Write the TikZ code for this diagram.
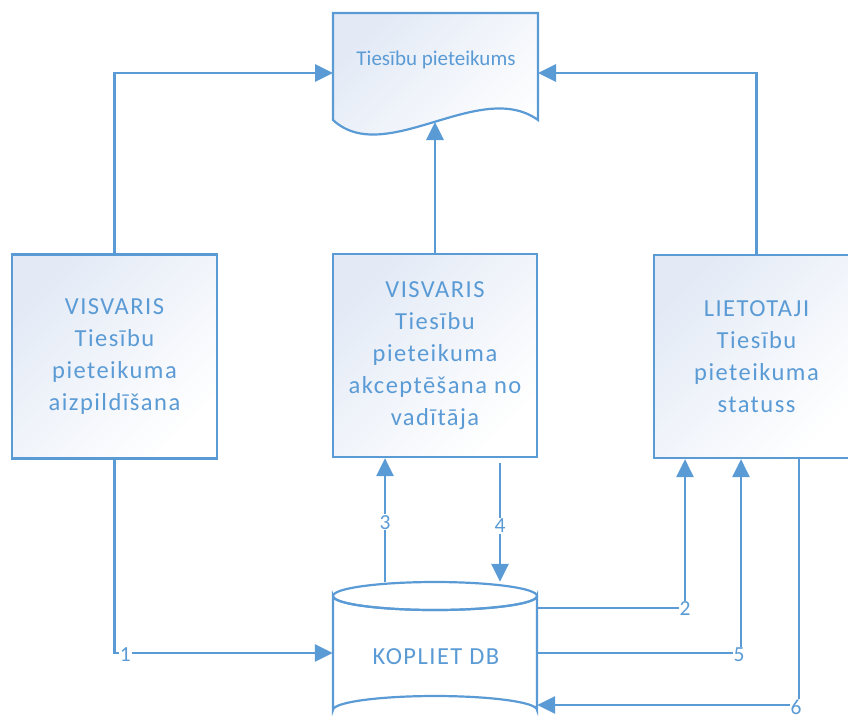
\documentclass[tikz,border=0pt]{standalone}
\usepackage{fontspec}
\setmainfont{Carlito}
\usetikzlibrary{arrows.meta}
\definecolor{linec}{HTML}{5B9BD5}
\definecolor{textc}{HTML}{5B9BD5}
\definecolor{fillc}{HTML}{E3EAF6}
\tikzset{
  procbox/.style={draw=linec, line width=2.2pt, top color=fillc, bottom color=white, shading angle=45,
    minimum width=205pt, minimum height=204pt, text=textc, align=center,
    font=\fontsize{24.5}{32}\selectfont\addfontfeature{LetterSpace=6}, inner sep=0pt},
  conn/.style={draw=linec, line width=2.8pt, -{Triangle[width=17pt,length=18pt]}},
  lab/.style={fill=white, text=textc, font=\fontsize{21.5}{22}\selectfont, inner sep=1pt},
  shapeline/.style={draw=linec, line width=2.2pt},
}
\begin{document}
\begin{tikzpicture}[x=1pt,y=-1pt]
\useasboundingbox (0,0) rectangle (848,724);
\clip (0,0) rectangle (848,724);
% document shape
\path[shapeline, top color=fillc, bottom color=white, shading angle=45]
  (333,13) -- (538,13) -- (538,120) .. controls (480,78) and (385,168) .. (333,120) -- cycle;
\node[text=textc, font=\fontsize{21}{24}\selectfont] (doc) at (436,60) {Tiesību pieteikums};
\coordinate (dl) at (333,73);
\coordinate (dr) at (538,73);
\coordinate (dbot) at (435,122);
% process boxes
\node[procbox] (b1) at (114.5,356.5) {VISVARIS\\Tiesību\\pieteikuma\\aizpildīšana};
\node[procbox, minimum width=204pt, minimum height=203pt] (b2) at (435,355.5) {VISVARIS\\Tiesību\\pieteikuma\\akceptēšana no\\vadītāja};
\node[procbox, minimum height=203pt] (b3) at (756.5,356.5) {LIETOTAJI\\Tiesību\\pieteikuma\\statuss};
% database cylinder
\path[shapeline, fill=white] (333,596) -- (333,710) arc[start angle=180, end angle=360, x radius=102, y radius=14]
  -- (537,596) arc[start angle=0, end angle=180, x radius=102, y radius=14] -- cycle;
\draw[shapeline] (435,596) ellipse [x radius=102, y radius=14];
\node[minimum width=204pt, minimum height=142pt, inner sep=0pt] (db) at (435,653) {};
\node[text=textc, font=\fontsize{24.5}{28}\selectfont\addfontfeature{LetterSpace=6}] (dblabel) at (436,657) {KOPLIET DB};
% helper coordinates
\coordinate (x2) at (685,0);
\coordinate (x3) at (385,0);
\coordinate (x4) at (500,0);
\coordinate (x5) at (741,0);
\coordinate (x6) at (799,0);
\coordinate (y2) at (0,608);
\coordinate (y4) at (0,463);
\coordinate (y6) at (0,705);
% connectors
\draw[conn] (b1.north) |- (dl);
\draw[conn] (b3.north) |- (dr);
\draw[conn] (b2.north) -- (dbot);
\draw[conn] (b1.south) |- node[lab, pos=0.525, yshift=-2pt] {1} (db.west);
\draw[conn] (x3 |- db.north) -- node[lab, pos=0.48] {3} (x3 |- b2.south);
\draw[conn] (x4 |- y4) -- node[lab, pos=0.53] {4} (x4 |- db.north);
\draw[conn] (db.east |- y2) -| node[lab, pos=0.5, yshift=-1pt] {2} (x2 |- b3.south);
\draw[conn] (db.east) -| node[lab, pos=0.5, xshift=-2pt, yshift=-2pt] {5} (x5 |- b3.south);
\draw[conn] (x6 |- b3.south) |- node[lab, pos=0.5, xshift=-3pt, yshift=-2pt] {6} (db.east |- y6);
\end{tikzpicture}
\end{document}
